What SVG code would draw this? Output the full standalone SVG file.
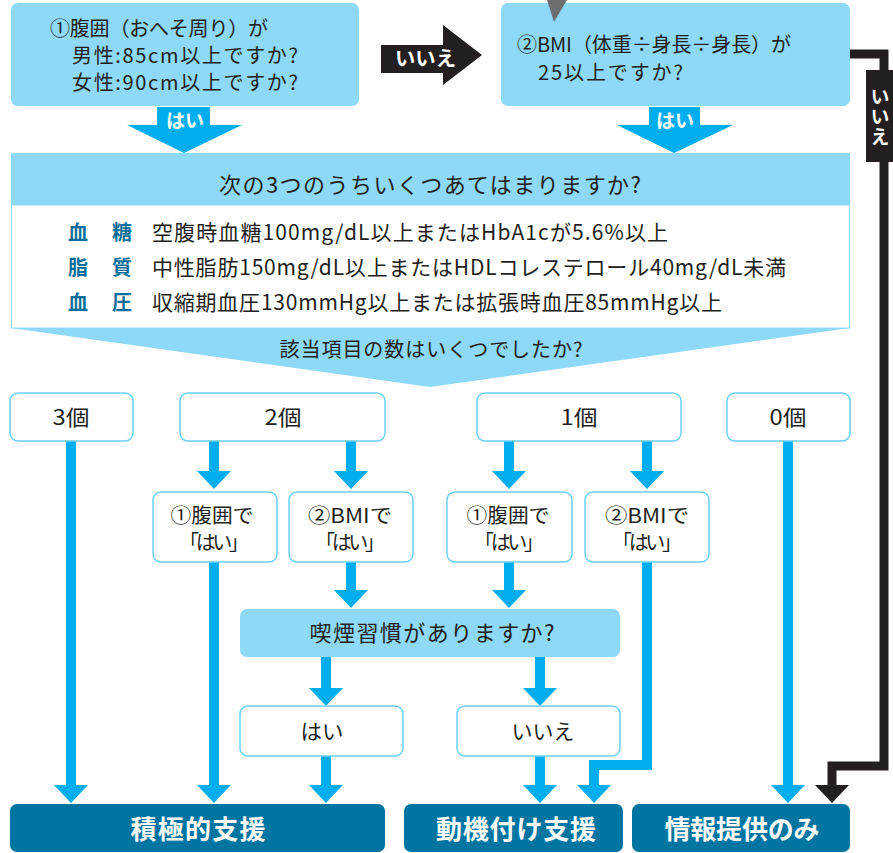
<svg xmlns="http://www.w3.org/2000/svg" width="893" height="853" viewBox="0 0 893 853">
<defs>
<style>
text{font-family:"Noto Sans CJK JP","Noto Sans",sans-serif;fill:#231F20}
.q{fill:#8ED8F8}
.wb{fill:#fff;stroke:#6DCFF6;stroke-width:1.5}
.fin{fill:#0075A2}
.t19{font-size:19px}
.t20{font-size:20px}
.t21{font-size:21px}
.c{text-anchor:middle}
.wt{fill:#fff;font-weight:bold}
.lab{fill:#0A6E9A;font-weight:bold;font-size:20px}
.bl{fill:none;stroke:#00AEEF;stroke-width:10;marker-end:url(#ah)}
.bk{fill:none;stroke:#231F20;stroke-width:9;marker-end:url(#ak)}
</style>
<marker id="ah" markerUnits="userSpaceOnUse" viewBox="0 0 18 34" refX="0" refY="17" markerWidth="18" markerHeight="34" orient="auto"><path d="M0,0 L18,17 L0,34 z" fill="#00AEEF"/></marker>
<marker id="ak" markerUnits="userSpaceOnUse" viewBox="0 0 18 34" refX="0" refY="17" markerWidth="18" markerHeight="34" orient="auto"><path d="M0,0 L18,17 L0,34 z" fill="#231F20"/></marker>
</defs>
<rect width="893" height="853" fill="#fff"/>

<g id="connectors">
<path class="bl" d="M71,441 V785"/>
<path class="bl" d="M214,441 V471"/>
<path class="bl" d="M351,441 V471"/>
<path class="bl" d="M509,441 V471"/>
<path class="bl" d="M647,441 V471"/>
<path class="bl" d="M214,562 V785"/>
<path class="bl" d="M351,562 V590"/>
<path class="bl" d="M509,562 V590"/>
<path class="bl" d="M647,562 V765 H594 V785"/>
<path class="bl" d="M788,441 V785"/>
<path class="bl" d="M326,657 V688"/>
<path class="bl" d="M540,657 V688"/>
<path class="bl" d="M326,756 V785"/>
<path class="bl" d="M540,756 V785"/>
<path class="bk" d="M850,54 H884 V766 H832 V785"/>
<g id="no-label-right">
<rect x="866" y="70" width="27" height="92" fill="#231F20"/>
<text class="wt" x="880" y="87" font-size="19" writing-mode="vertical-rl" letter-spacing="1">いいえ</text>
</g>
<g id="no-arrow-top">
<path d="M381,45 H443 V25 L482,55 L443,85 V73 H381 z" fill="#231F20"/>
<text class="wt t20" x="395" y="66" textLength="61" lengthAdjust="spacingAndGlyphs">いいえ</text>
</g>
<g id="yes-arrow-1">
<path d="M157,107 H210 V125 H242 L184,153 L127,125 H157 z" fill="#00AEEF"/>
<text class="wt t19 c" x="185" y="128">はい</text>
</g>
<g id="yes-arrow-2">
<path d="M649,107 H700 V125 H733 L674,153 L617,125 H649 z" fill="#00AEEF"/>
<text class="wt t19 c" x="675" y="128">はい</text>
</g>
</g>

<g id="q1">
<rect class="q" x="11" y="3" width="348" height="103" rx="7"/>
<text class="t20" x="50" y="36" textLength="218">①腹囲（おへそ周り）が</text>
<text class="t20" x="72" y="63" textLength="226">男性:85cm以上ですか?</text>
<text class="t20" x="72" y="90" textLength="226">女性:90cm以上ですか?</text>
</g>

<g id="q2">
<rect class="q" x="501" y="3" width="349" height="103" rx="7"/>
<text class="t20" x="517" y="52" textLength="274">②BMI（体重÷身長÷身長）が</text>
<text class="t20" x="538" y="80" textLength="145">25以上ですか?</text>
</g>
<path id="pointer" d="M547,0 L567,0 L554,22 z" fill="#6D6E71"/>

<g id="criteria">
<rect class="q" x="11" y="153" width="839" height="52"/>
<rect x="11.5" y="205" width="838" height="123" fill="#fff" stroke="#8ED8F8" stroke-width="1"/>
<path class="q" d="M11,328 H850 L430,387 z"/>
<text class="c" x="430" y="193" font-size="22" textLength="422">次の3つのうちいくつあてはまりますか?</text>
<text class="lab" x="68" y="240">血</text><text class="lab" x="112" y="240">糖</text>
<text class="lab" x="68" y="275">脂</text><text class="lab" x="112" y="275">質</text>
<text class="lab" x="68" y="310">血</text><text class="lab" x="112" y="310">圧</text>
<text class="t21" x="152" y="240" textLength="516">空腹時血糖100mg/dL以上またはHbA1cが5.6%以上</text>
<text class="t21" x="152" y="275" textLength="634">中性脂肪150mg/dL以上またはHDLコレステロール40mg/dL未満</text>
<text class="t21" x="152" y="310" textLength="570">収縮期血圧130mmHg以上または拡張時血圧85mmHg以上</text>
<text class="t20 c" x="431" y="357" textLength="303">該当項目の数はいくつでしたか?</text>
</g>

<g id="n3"><rect class="wb" x="10" y="393" width="123" height="48" rx="8"/><text class="t21 c" x="71" y="425" textLength="37" lengthAdjust="spacingAndGlyphs">3個</text></g>
<g id="n2"><rect class="wb" x="180" y="393" width="205" height="48" rx="8"/><text class="t21 c" x="283" y="425" textLength="37" lengthAdjust="spacingAndGlyphs">2個</text></g>
<g id="n1"><rect class="wb" x="477" y="393" width="204" height="48" rx="8"/><text class="t21 c" x="579" y="425" textLength="37" lengthAdjust="spacingAndGlyphs">1個</text></g>
<g id="n0"><rect class="wb" x="727" y="393" width="123" height="48" rx="8"/><text class="t21 c" x="788" y="425" textLength="37" lengthAdjust="spacingAndGlyphs">0個</text></g>

<g id="n2-waist"><rect class="wb" x="153" y="492" width="124" height="70" rx="8"/><text class="t20 c" x="212" y="523" textLength="83" lengthAdjust="spacingAndGlyphs">①腹囲で</text><text class="t20 c" x="214" y="550" textLength="70">「はい」</text></g>
<g id="n2-bmi"><rect class="wb" x="289" y="492" width="124" height="70" rx="8"/><text class="t20 c" x="350" y="523" textLength="84" lengthAdjust="spacingAndGlyphs">②BMIで</text><text class="t20 c" x="350" y="550" textLength="70">「はい」</text></g>
<g id="n1-waist"><rect class="wb" x="447" y="492" width="125" height="70" rx="8"/><text class="t20 c" x="508" y="523" textLength="83" lengthAdjust="spacingAndGlyphs">①腹囲で</text><text class="t20 c" x="509" y="550" textLength="70">「はい」</text></g>
<g id="n1-bmi"><rect class="wb" x="585" y="492" width="124" height="70" rx="8"/><text class="t20 c" x="647" y="523" textLength="84" lengthAdjust="spacingAndGlyphs">②BMIで</text><text class="t20 c" x="647" y="550" textLength="70">「はい」</text></g>

<g id="smoking"><rect class="q" x="240" y="609" width="380" height="48" rx="7"/><text class="c" x="432" y="641" font-size="22" textLength="245">喫煙習慣がありますか?</text></g>
<g id="smoke-yes"><rect class="wb" x="240" y="706" width="163" height="50" rx="8"/><text class="t21 c" x="322" y="739" textLength="43" lengthAdjust="spacingAndGlyphs">はい</text></g>
<g id="smoke-no"><rect class="wb" x="457" y="706" width="163" height="50" rx="8"/><text class="t21 c" x="543" y="739" textLength="63" lengthAdjust="spacingAndGlyphs">いいえ</text></g>

<g id="active"><rect class="fin" x="10" y="804" width="375" height="48" rx="7"/><text class="wt c" x="198" y="839" font-size="26" textLength="135">積極的支援</text></g>
<g id="motivation"><rect class="fin" x="404" y="804" width="219" height="48" rx="7"/><text class="wt c" x="516" y="839" font-size="26" textLength="160">動機付け支援</text></g>
<g id="info"><rect class="fin" x="632" y="804" width="218" height="48" rx="7"/><text class="wt c" x="742" y="839" font-size="26" textLength="155">情報提供のみ</text></g>
</svg>
